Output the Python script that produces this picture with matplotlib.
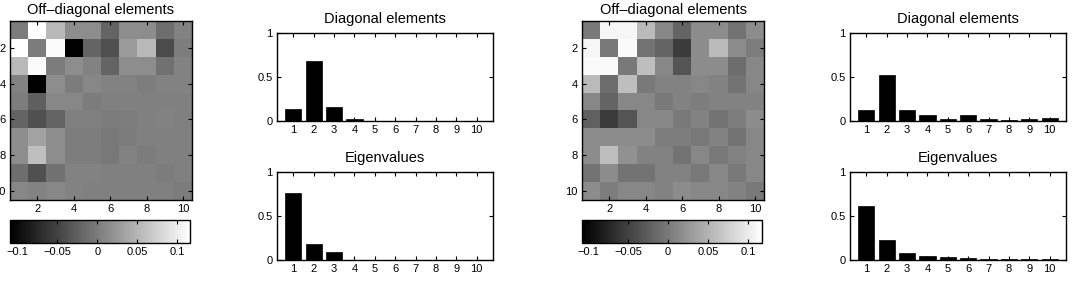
import numpy as np
import matplotlib
matplotlib.use('Agg')
import matplotlib.pyplot as plt

plt.rcParams['font.family'] = ['Liberation Sans', 'DejaVu Sans']

# Off-diagonal matrices (read from grey levels)
offdiag_a = [
    [0.000, 0.116, 0.054, 0.015, 0.015, -0.021, 0.015, 0.015, -0.012, 0.006],
    [0.116, 0.000, 0.112, -0.109, -0.021, -0.038, 0.028, 0.054, -0.043, 0.001],
    [0.054, 0.112, 0.000, 0.015, 0.006, -0.021, 0.015, 0.015, -0.008, 0.006],
    [0.006, -0.109, 0.015, 0.000, 0.010, 0.006, 0.006, 0.001, 0.006, 0.006],
    [0.001, -0.025, 0.010, 0.010, 0.000, 0.004, 0.004, 0.004, 0.004, 0.004],
    [-0.021, -0.038, -0.021, 0.004, 0.004, 0.000, 0.001, 0.004, 0.006, 0.004],
    [0.015, 0.034, 0.015, 0.001, 0.001, -0.001, 0.000, 0.004, 0.004, 0.004],
    [0.015, 0.059, 0.015, 0.001, 0.001, -0.003, 0.006, 0.000, 0.004, 0.004],
    [-0.012, -0.038, -0.008, 0.006, 0.006, 0.004, 0.004, 0.004, 0.000, 0.004],
    [0.010, 0.006, 0.010, 0.006, 0.004, 0.004, 0.004, 0.004, 0.004, 0.000],
]
offdiag_b = [
    [0.000, 0.109, 0.109, 0.056, 0.012, -0.019, 0.016, 0.016, -0.006, 0.016],
    [0.109, 0.000, 0.113, -0.006, -0.019, -0.055, 0.016, 0.056, 0.016, 0.003],
    [0.113, 0.113, 0.000, 0.060, 0.012, -0.033, 0.016, 0.016, -0.011, 0.012],
    [0.056, -0.011, 0.060, 0.000, 0.007, 0.007, 0.012, 0.007, -0.006, 0.012],
    [0.012, -0.019, 0.012, 0.012, 0.000, 0.007, 0.003, 0.007, 0.007, 0.007],
    [-0.023, -0.055, -0.033, 0.012, 0.012, 0.000, 0.007, -0.006, 0.003, 0.016],
    [0.016, 0.016, 0.016, 0.016, 0.003, 0.003, 0.000, 0.007, -0.006, 0.012],
    [0.016, 0.060, 0.020, 0.007, 0.007, -0.006, 0.012, 0.000, 0.007, 0.012],
    [-0.006, 0.016, -0.006, -0.006, 0.007, 0.007, -0.002, 0.012, 0.000, 0.012],
    [0.016, 0.003, 0.012, 0.012, 0.007, 0.016, 0.012, 0.012, 0.007, 0.000],
]
clim_a = (-0.109, 0.116)
clim_b = (-0.1075, 0.1175)

idx = list(range(1, 11))
diag_a = [0.134, 0.683, 0.160, 0.027, 0.003, 0.003, 0.003, 0.003, 0.003, 0.003]
eig_a = [0.762, 0.177, 0.094, 0.002, 0.002, 0.002, 0.002, 0.002, 0.002, 0.002]
diag_b = [0.120, 0.528, 0.128, 0.064, 0.023, 0.068, 0.026, 0.015, 0.023, 0.038]
eig_b = [0.610, 0.226, 0.075, 0.040, 0.038, 0.019, 0.015, 0.015, 0.013, 0.011]

TICK_FS = 8
TITLE_FS = 10.5

fig = plt.figure(figsize=(10.8, 2.88), dpi=100)


def style(ax):
    ax.tick_params(direction='in', top=True, right=True, length=3, width=0.8,
                   labelsize=TICK_FS, pad=3)
    for s in ax.spines.values():
        s.set_linewidth(1.0)


def heatmap(x0, mat, clim):
    ax = fig.add_axes([x0 / 1080, 1 - 200 / 288, 182 / 1080, 179 / 288])
    im = ax.imshow(np.array(mat), cmap='gray', vmin=clim[0], vmax=clim[1],
                   extent=(0.5, 10.5, 10.5, 0.5), interpolation='nearest', aspect='auto')
    ax.set_xticks([2, 4, 6, 8, 10])
    ax.set_yticks([2, 4, 6, 8, 10])
    style(ax)
    ax.set_title('Off\u2013diagonal elements', fontsize=TITLE_FS, pad=5)
    cax = fig.add_axes([x0 / 1080, 1 - 243 / 288, 180 / 1080, 23 / 288])
    cb = fig.colorbar(im, cax=cax, orientation='horizontal')
    cb.set_ticks([-0.1, -0.05, 0, 0.05, 0.1])
    cb.set_ticklabels(['\u22120.1', '\u22120.05', '0', '0.05', '0.1'])
    cax.tick_params(direction='in', top=True, bottom=True, length=3, width=0.8,
                    labelsize=TICK_FS, pad=3)
    cb.outline.set_linewidth(1.0)


def bars(x0, y_top, vals, title):
    ax = fig.add_axes([x0 / 1080, 1 - (y_top + 88) / 288, 216 / 1080, 88 / 288])
    ax.bar(idx, vals, width=0.8, color='black', edgecolor='black', linewidth=0.5)
    ax.set_xlim(0.2, 10.8)
    ax.set_ylim(0, 1)
    ax.set_xticks(idx)
    ax.set_yticks([0, 0.5, 1])
    ax.set_yticklabels(['0', '0.5', '1'])
    style(ax)
    ax.set_title(title, fontsize=TITLE_FS, pad=7)


heatmap(10, offdiag_a, clim_a)
bars(277, 33, diag_a, 'Diagonal elements')
bars(277, 172, eig_a, 'Eigenvalues')

heatmap(582, offdiag_b, clim_b)
bars(850, 33, diag_b, 'Diagonal elements')
bars(850, 172, eig_b, 'Eigenvalues')

fig.savefig('out.png', dpi=100)
